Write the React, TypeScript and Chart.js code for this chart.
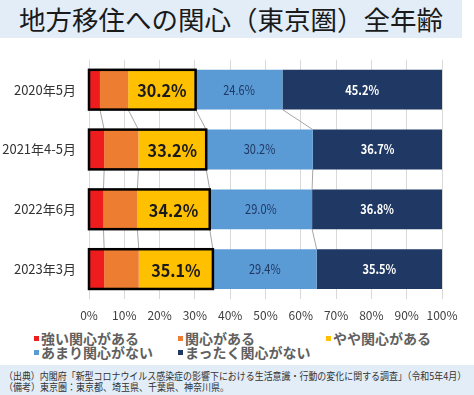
import React, { useEffect, useRef } from "react";
import { Chart, registerables } from "chart.js";

Chart.register(...registerables);

const categories = ["2020年5月", "2021年4-5月", "2022年6月", "2023年3月"];
const seriesNames = ["強い関心がある", "関心がある", "やや関心がある", "あまり関心がない", "まったく関心がない"];
const strong = [3.1, 4.3, 4.1, 4.3];
const some = [8.0, 9.7, 9.6, 9.8];
const slight = [19.1, 19.2, 20.5, 21.0];
const little = [24.6, 30.2, 29.0, 29.4];
const none = [45.2, 36.7, 36.8, 35.5];
const interestTotal = [30.2, 33.2, 34.2, 35.1];
const xTicks = [0, 10, 20, 30, 40, 50, 60, 70, 80, 90, 100];

const colors = ["#ee1c1c", "#ed7d31", "#ffc000", "#5b9bd5", "#1f3864"];
const FONT = "'Noto Sans CJK JP', 'Noto Sans', sans-serif";

const overlayPlugin = {
  id: "overlay",
  beforeDatasetsDraw(chart: any) {
    const ctx = chart.ctx;
    ctx.save();
    ctx.strokeStyle = "#a6a6a6";
    ctx.lineWidth = 1;
    for (let d = 0; d < 4; d++) {
      const meta = chart.getDatasetMeta(d);
      for (let i = 0; i < meta.data.length - 1; i++) {
        const a = meta.data[i];
        const b = meta.data[i + 1];
        ctx.beginPath();
        ctx.moveTo(a.x, a.y + a.height / 2);
        ctx.lineTo(b.x, b.y - b.height / 2);
        ctx.stroke();
      }
    }
    ctx.restore();
  },
  afterDatasetsDraw(chart: any) {
    const ctx = chart.ctx;
    const xs = chart.scales.x;
    ctx.save();
    const m2 = chart.getDatasetMeta(2);
    const m3 = chart.getDatasetMeta(3);
    const m4 = chart.getDatasetMeta(4);
    const drawText = (txt: string, cx: number, cy: number, font: string, color: string, sx: number) => {
      ctx.save();
      ctx.translate(cx, cy);
      ctx.scale(sx, 1);
      ctx.font = font;
      ctx.fillStyle = color;
      ctx.textAlign = "center";
      ctx.textBaseline = "middle";
      ctx.fillText(txt, 0, 0);
      ctx.restore();
    };
    for (let i = 0; i < categories.length; i++) {
      const e2 = m2.data[i];
      const top = e2.y - e2.height / 2;
      const left = xs.getPixelForValue(0);
      ctx.strokeStyle = "#000";
      ctx.lineWidth = 2.5;
      ctx.strokeRect(left, top, e2.x - left, e2.height);

      drawText(interestTotal[i].toFixed(1) + "%", (e2.x + e2.base) / 2, e2.y + 1, "bold 17px " + FONT, "#1a1a1a", 0.95);
      const e3 = m3.data[i];
      drawText(little[i].toFixed(1) + "%", (e3.x + e3.base) / 2, e3.y, "13px " + FONT, "#1f3864", 0.85);
      const e4 = m4.data[i];
      drawText(none[i].toFixed(1) + "%", (e4.x + e4.base) / 2, e4.y, "bold 13px " + FONT, "#ffffff", 0.85);
    }
    ctx.restore();
  },
};

function FitLine({ text, width }: { text: string; width: number }) {
  const ref = useRef<HTMLDivElement>(null);
  useEffect(() => {
    const el = ref.current!;
    const w = el.scrollWidth;
    if (w > width) el.style.transform = `scaleX(${width / w})`;
  }, [text, width]);
  return (
    <div ref={ref} style={{ display: "inline-block", transformOrigin: "0 0", whiteSpace: "nowrap" }}>
      {text}
    </div>
  );
}

export default function App() {
  const ref = useRef<HTMLCanvasElement>(null);
  useEffect(() => {
    document.body.style.margin = "0";
    const data = [strong, some, slight, little, none];
    const chart = new Chart(ref.current!, {
      type: "bar",
      data: {
        labels: categories,
        datasets: data.map((v, k) => ({
          label: seriesNames[k],
          data: v,
          backgroundColor: colors[k],
          borderWidth: 0,
          barPercentage: 0.665,
          categoryPercentage: 1,
        })),
      },
      options: {
        indexAxis: "y",
        responsive: false,
        animation: false,
        devicePixelRatio: 1,
        layout: { padding: { left: 0, right: 32, top: 0, bottom: 0 } },
        plugins: { legend: { display: false }, tooltip: { enabled: false } },
        scales: {
          x: {
            stacked: true,
            min: 0,
            max: 100,
            afterBuildTicks: (s: any) => {
              s.ticks = xTicks.map((v) => ({ value: v }));
            },
            afterFit: (s: any) => {
              s.height = 26;
            },
            grid: { color: "#d9d9d9", drawTicks: false },
            border: { display: false },
            ticks: {
              padding: 9,
              maxRotation: 0,
              minRotation: 0,
              autoSkip: false,
              color: "#404040",
              font: { family: FONT, size: 12 },
              callback: (v: any) => v + "%",
            },
          },
          y: {
            stacked: true,
            afterFit: (s: any) => {
              s.width = 89;
            },
            grid: { display: false, drawTicks: false },
            border: { display: false },
            ticks: {
              padding: 13,
              color: "#333333",
              font: { family: FONT, size: 13 },
            },
          },
        },
      },
      plugins: [overlayPlugin],
    });
    return () => chart.destroy();
  }, []);

  const legendItem = (k: number, left: number, top: number) => (
    <div
      key={k}
      style={{
        position: "absolute",
        left,
        top,
        display: "flex",
        alignItems: "center",
        fontFamily: FONT,
        fontWeight: 700,
        fontSize: 14,
        color: "#606060",
        lineHeight: "14px",
        whiteSpace: "nowrap",
      }}
    >
      <span style={{ display: "inline-block", width: 5, height: 5, background: colors[k], marginRight: 2 }} />
      {seriesNames[k]}
    </div>
  );

  return (
    <div style={{ position: "absolute", left: 0, top: 0, width: 474, height: 395, background: "#fff", overflow: "hidden" }}>
      <div
        style={{
          position: "absolute",
          left: 0,
          top: 0,
          width: 462,
          height: 38,
          background: "#e2edf8",
          fontFamily: FONT,
          fontSize: 26.5,
          lineHeight: "38px",
          textAlign: "center",
          color: "#1a1a1a",
          whiteSpace: "nowrap",
        }}
      >
        地方移住への関心（東京圏）全年齢
      </div>
      <canvas ref={ref} width={474} height={286} style={{ position: "absolute", left: 0, top: 39 }} />
      {legendItem(0, 34, 331)}
      {legendItem(1, 178, 331)}
      {legendItem(2, 326, 331)}
      {legendItem(3, 34, 345)}
      {legendItem(4, 178, 345)}
      <div
        style={{
          position: "absolute",
          left: 0,
          top: 365,
          width: 474,
          height: 30,
          background: "#e2edf8",
          fontFamily: FONT,
          fontSize: 10,
          lineHeight: "10.5px",
          color: "#333",
          paddingLeft: 4,
          paddingTop: 6,
          boxSizing: "border-box",
        }}
      >
        <div style={{ height: 10.5 }}>
          <FitLine text="（出典）内閣府「新型コロナウイルス感染症の影響下における生活意識・行動の変化に関する調査」（令和5年4月）" width={462} />
        </div>
        <div style={{ height: 10.5 }}>
          <FitLine text="（備考）東京圏：東京都、埼玉県、千葉県、神奈川県。" width={225} />
        </div>
      </div>
    </div>
  );
}
